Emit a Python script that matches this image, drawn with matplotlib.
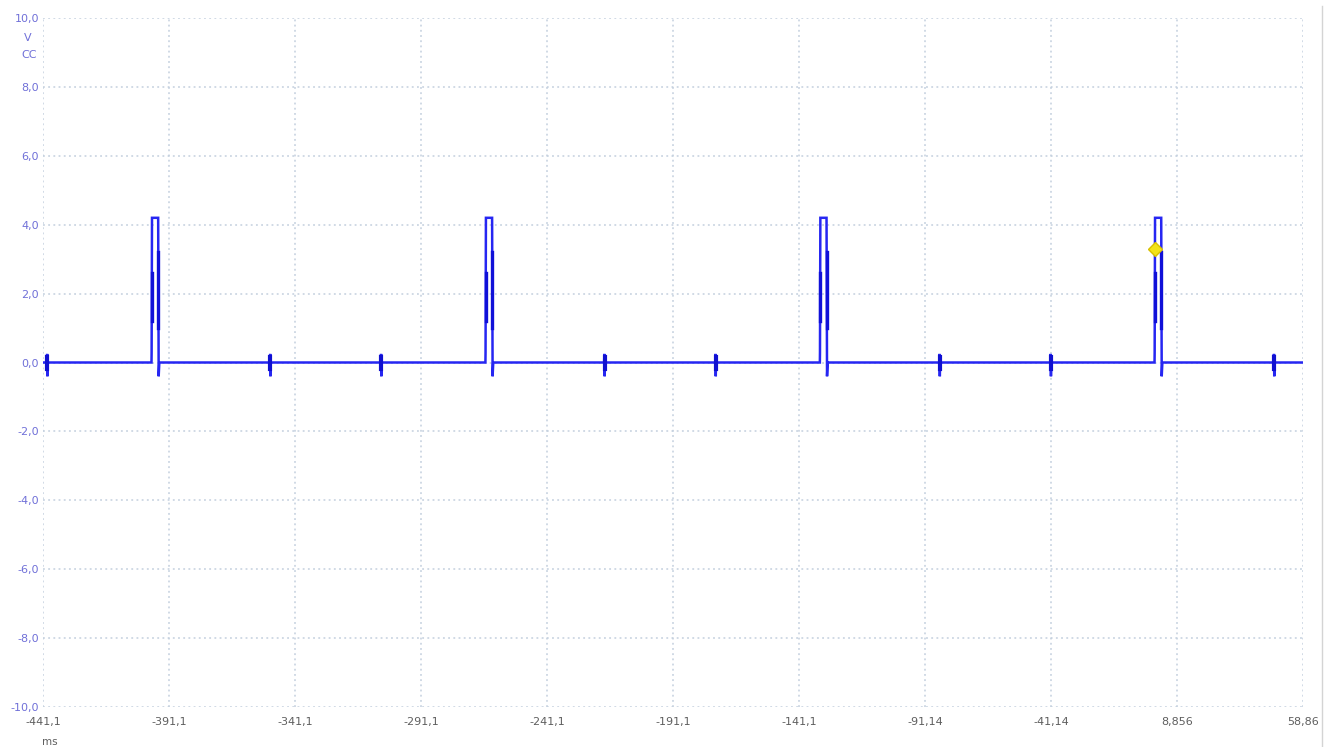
import numpy as np
import matplotlib
matplotlib.use("Agg")
import matplotlib.pyplot as plt
from matplotlib.lines import Line2D

# Capture window (ms) and voltage range
t_start, t_end = -441.1, 58.86
v_min, v_max = -10.0, 10.0

x_tick_values = [-441.1, -391.1, -341.1, -291.1, -241.1, -191.1, -141.1, -91.14, -41.14, 8.856, 58.86]
x_tick_labels = ["-441,1", "-391,1", "-341,1", "-291,1", "-241,1", "-191,1", "-141,1", "-91,14", "-41,14", "8,856", "58,86"]
y_tick_values = [10, 8, 6, 4, 2, 0, -2, -4, -6, -8, -10]
y_tick_labels = ["10,0", "8,0", "6,0", "4,0", "2,0", "0,0", "-2,0", "-4,0", "-6,0", "-8,0", "-10,0"]

# Signal events
pulse_rise_times = [-398.0, -265.5, -132.8, 0.0]   # ms
pulse_width = 2.6                                  # ms
pulse_high = 4.2                                   # V
pulse_undershoot = -0.4                            # V
glitch_times = [-439.4, -350.9, -306.9, -218.3, -174.2, -85.3, -41.2, 47.4]  # ms
glitch_high = 0.25
glitch_low = -0.4
trigger_time = 0.0
trigger_level = 3.3

# Build the trace from the event lists
events = []
for tr in pulse_rise_times:
    events.append((tr, [(tr - 0.05, 0.0), (tr, 0.3), (tr + 0.15, pulse_high),
                        (tr + pulse_width, pulse_high), (tr + pulse_width + 0.2, pulse_undershoot),
                        (tr + pulse_width + 0.45, 0.0)]))
for tg in glitch_times:
    events.append((tg, [(tg - 0.15, 0.0), (tg - 0.05, glitch_high), (tg + 0.05, glitch_low),
                        (tg + 0.15, 0.0)]))
events.sort(key=lambda e: e[0])

tt = [t_start]
vv = [0.0]
for _, pts in events:
    for t, v in pts:
        tt.append(t)
        vv.append(v)
tt.append(t_end)
vv.append(0.0)

fig = plt.figure(figsize=(13.3, 7.47), dpi=100)
ax = fig.add_axes([43 / 1330, 1 - 707 / 747, (1303 - 43) / 1330, (707 - 18) / 747])

ax.plot(tt, vv, color="#2626f2", lw=1.8, solid_joinstyle="miter", zorder=3)
# darker overdrawn sections on the pulse edges
for tr in pulse_rise_times:
    ax.plot([tr + 0.05, tr + 0.05], [1.2, 2.6], color="#1010d8", lw=2.4, zorder=4)
    ax.plot([tr + pulse_width + 0.05] * 2, [1.0, 3.2], color="#1010d8", lw=2.4, zorder=4)
# glitch blobs
for tg in glitch_times:
    ax.plot([tg, tg], [-0.2, 0.15], color="#1010d0", lw=3.0, zorder=4)

ax.plot([trigger_time], [trigger_level], marker="D", ms=7, color="#f2e318",
        markeredgecolor="#d8c000", zorder=5)

ax.set_xlim(t_start, t_end)
ax.set_ylim(v_min, v_max)
ax.set_xticks(x_tick_values)
ax.set_xticklabels(x_tick_labels)
ax.set_yticks(y_tick_values)
ax.set_yticklabels(y_tick_labels)
ax.tick_params(axis="both", length=0, labelsize=8)
ax.tick_params(axis="x", colors="#5e5e5e", pad=7)
ax.tick_params(axis="y", colors="#7070d8", pad=3)
for s in ax.spines.values():
    s.set_visible(False)
ax.grid(True, color="#c3d0de", linestyle=(0, (1.2, 2.2)), linewidth=1.1, zorder=0)
ax.set_axisbelow(True)

# unit labels
fig.text(28 / 1330, 1 - 38 / 747, "V", color="#7070d8", fontsize=8, ha="center", va="center")
fig.text(29 / 1330, 1 - 55 / 747, "CC", color="#7070d8", fontsize=8, ha="center", va="center")
fig.text(50 / 1330, 1 - 742 / 747, "ms", color="#5e5e5e", fontsize=7.5, ha="center", va="center")

# right border line
fig.add_artist(Line2D([1322 / 1330, 1322 / 1330], [0, 1 - 6 / 747], color="#d4d4d4", lw=1.0))

fig.savefig("out.png", dpi=100, facecolor="white")
